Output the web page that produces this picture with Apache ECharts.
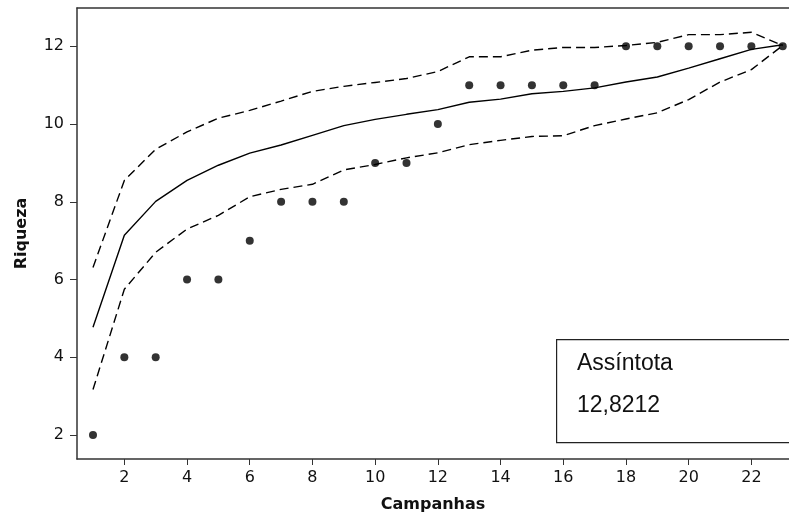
<!DOCTYPE html>
<html>
<head>
<meta charset="utf-8">
<script src="https://cdn.jsdelivr.net/npm/echarts@6/dist/echarts.min.js"></script>
<style>
  html, body { margin: 0; padding: 0; background: #fff; }
  #chart { width: 789px; height: 516px; }
</style>
</head>
<body>
<div id="chart"></div>
<script>
// Campaign index (x) shared by every series
const campanhas = [1, 2, 3, 4, 5, 6, 7, 8, 9, 10, 11, 12, 13, 14, 15, 16, 17, 18, 19, 20, 21, 22, 23];
// Observed cumulative richness per campaign
const riquezaObservada = [2, 4, 4, 6, 6, 7, 8, 8, 8, 9, 9, 10, 11, 11, 11, 11, 11, 12, 12, 12, 12, 12, 12];
// Mean rarefaction curve
const curvaMedia = [4.77, 7.14, 8.01, 8.55, 8.94, 9.25, 9.46, 9.71, 9.96, 10.12, 10.25, 10.37, 10.56, 10.64, 10.78, 10.84, 10.93, 11.08, 11.21, 11.44, 11.68, 11.92, 12.04];
// Upper and lower confidence limits
const limiteSuperior = [6.31, 8.55, 9.35, 9.8, 10.15, 10.35, 10.59, 10.84, 10.97, 11.07, 11.17, 11.35, 11.73, 11.73, 11.9, 11.97, 11.97, 12.02, 12.1, 12.3, 12.3, 12.36, 12.02];
const limiteInferior = [3.17, 5.75, 6.7, 7.3, 7.65, 8.13, 8.32, 8.45, 8.82, 8.96, 9.13, 9.26, 9.47, 9.58, 9.68, 9.7, 9.96, 10.13, 10.29, 10.63, 11.08, 11.4, 12.02];
// Tick labels
const xTicks = [2, 4, 6, 8, 10, 12, 14, 16, 18, 20, 22];
const yTicks = [2, 4, 6, 8, 10, 12];
const assintota = '12,8212';

const pairs = (ys) => campanhas.map((x, i) => [x, ys[i]]);

const axisColor = '#333';
const textColor = '#111';
const tickFont = { fontFamily: 'DejaVu Sans', fontSize: 16, color: textColor };

const chart = echarts.init(document.getElementById('chart'), null, { renderer: 'canvas' });

chart.setOption({
  animation: false,
  backgroundColor: '#fff',
  grid: { left: 77, right: 0, top: 8, bottom: 57, containLabel: false, outerBoundsMode: 'none' },
  xAxis: [{
    type: 'value',
    min: 0.49,
    max: 23.2,
    name: 'Campanhas',
    nameLocation: 'middle',
    nameGap: 38,
    nameTextStyle: { fontFamily: 'DejaVu Sans', fontWeight: 'bold', fontSize: 16, color: textColor },
    axisLine: { show: true, lineStyle: { color: axisColor, width: 1.5 } },
    axisTick: { show: true, length: 6, customValues: xTicks, lineStyle: { color: axisColor, width: 1 } },
    axisLabel: Object.assign({ customValues: xTicks, margin: 11 }, tickFont),
    splitLine: { show: false }
  }, {
    type: 'value',
    position: 'top',
    min: 0.49,
    max: 23.2,
    axisLine: { show: true, onZero: false, lineStyle: { color: axisColor, width: 1.5 } },
    axisTick: { show: false },
    axisLabel: { show: false },
    splitLine: { show: false }
  }],
  yAxis: {
    type: 'value',
    min: 1.383,
    max: 12.985,
    name: 'Riqueza',
    nameLocation: 'middle',
    nameGap: 47,
    nameRotate: 90,
    nameTextStyle: { fontFamily: 'DejaVu Sans', fontWeight: 'bold', fontSize: 16, color: textColor },
    axisLine: { show: true, lineStyle: { color: axisColor, width: 1.5 } },
    axisTick: { show: true, length: 7, customValues: yTicks, lineStyle: { color: axisColor, width: 1 } },
    axisLabel: Object.assign({ customValues: yTicks, margin: 13 }, tickFont),
    splitLine: { show: false }
  },
  series: [
    {
      name: 'Limite superior',
      type: 'line',
      data: pairs(limiteSuperior),
      showSymbol: false,
      lineStyle: { color: '#000', width: 1.4, type: [9, 5] },
      z: 2
    },
    {
      name: 'Limite inferior',
      type: 'line',
      data: pairs(limiteInferior),
      showSymbol: false,
      lineStyle: { color: '#000', width: 1.4, type: [9, 5] },
      z: 2
    },
    {
      name: 'Média',
      type: 'line',
      data: pairs(curvaMedia),
      showSymbol: false,
      lineStyle: { color: '#000', width: 1.4 },
      z: 3
    },
    {
      name: 'Riqueza observada',
      type: 'scatter',
      data: pairs(riquezaObservada),
      symbol: 'circle',
      symbolSize: 8,
      itemStyle: { color: '#000' },
      z: 4
    }
  ],
  graphic: [
    {
      type: 'rect',
      left: 556,
      top: 339,
      shape: { width: 240, height: 103 },
      style: { fill: '#fff', stroke: '#222', lineWidth: 1.2 },
      z: 10
    },
    {
      type: 'text',
      left: 577,
      top: 352,
      style: { text: 'Assíntota', font: '23px "Liberation Sans", Arial, sans-serif', fill: textColor },
      z: 11
    },
    {
      type: 'text',
      left: 577,
      top: 394,
      style: { text: assintota, font: '23px "Liberation Sans", Arial, sans-serif', fill: textColor },
      z: 11
    }
  ]
});
</script>
</body>
</html>
